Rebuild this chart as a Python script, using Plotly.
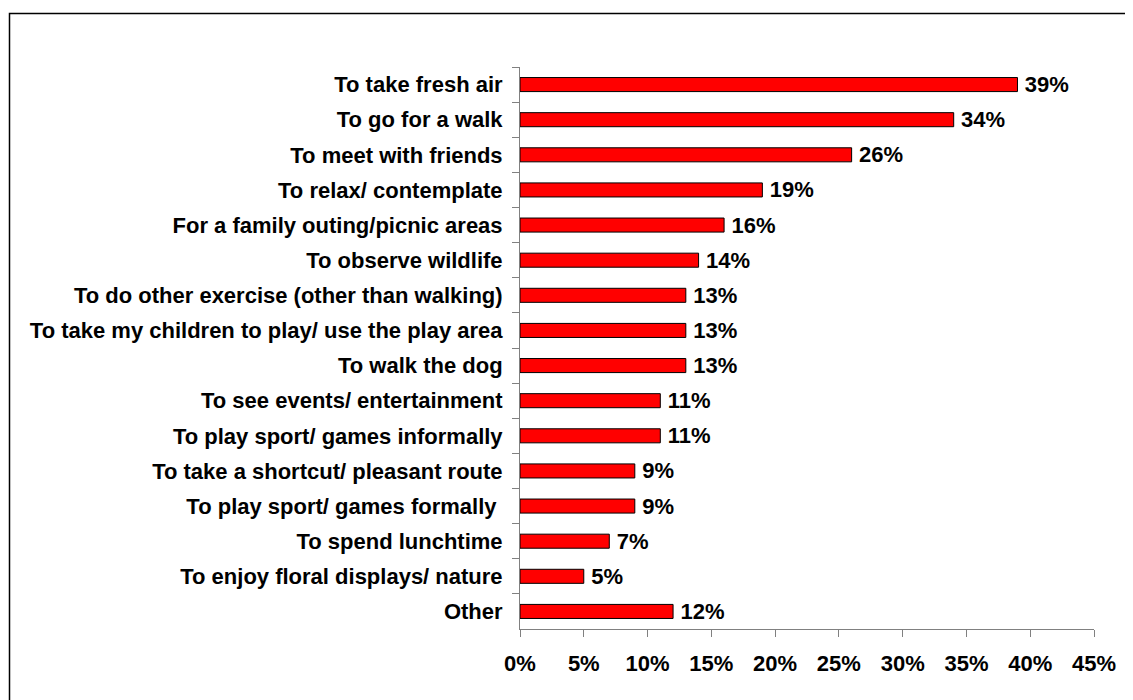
import plotly.graph_objects as go

categories = [
    "To take fresh air",
    "To go for a walk",
    "To meet with friends",
    "To relax/ contemplate",
    "For a family outing/picnic areas",
    "To observe wildlife",
    "To do other exercise (other than walking)",
    "To take my children to play/ use the play area",
    "To walk the dog",
    "To see events/ entertainment",
    "To play sport/ games informally",
    "To take a shortcut/ pleasant route",
    "To play sport/ games formally ",
    "To spend lunchtime",
    "To enjoy floral displays/ nature",
    "Other",
]
values = [39, 34, 26, 19, 16, 14, 13, 13, 13, 11, 11, 9, 9, 7, 5, 12]
tick_vals = [0, 5, 10, 15, 20, 25, 30, 35, 40, 45]
tick_text = [f"{v}%" for v in tick_vals]

FONT = "Arial, Liberation Sans, sans-serif"
FS = 22

# page has an 8px body margin; figure coordinates are offset accordingly
OFF = 8
L, R, T, B = 520 - OFF, 1133 - (1094 - OFF), 67 - OFF, 700 - (629 - OFF)
PW, PH = 1133 - L - R, 700 - T - B

fig = go.Figure(
    go.Bar(
        x=values,
        y=categories,
        orientation="h",
        width=0.4,
        marker=dict(color="#FF0000", line=dict(color="#000000", width=1)),
        text=[f"\u2009{v}%" for v in values],
        textposition="outside",
        constraintext="none",
        textfont=dict(family=FONT, size=FS, color="#000000", weight="bold"),
        cliponaxis=False,
    )
)

fig.update_layout(
    width=1133,
    height=700,
    margin=dict(l=L, r=R, t=T, b=B),
    paper_bgcolor="white",
    plot_bgcolor="white",
    showlegend=False,
    font=dict(family=FONT, size=FS, color="#000000"),
    xaxis=dict(
        range=[0, 45],
        tickvals=tick_vals,
        ticktext=tick_text,
        showgrid=False,
        zeroline=False,
        showline=True,
        linecolor="#808080",
        linewidth=1,
        ticks="outside",
        ticklen=7,
        tickcolor="#808080",
        tickfont=dict(family=FONT, size=FS, color="#000000", weight="bold"),
        ticklabelstandoff=8,
    ),
    yaxis=dict(
        autorange="reversed",
        showgrid=False,
        showline=True,
        linecolor="#808080",
        linewidth=1,
        ticks="outside",
        ticklen=7,
        tickcolor="#808080",
        tickson="boundaries",
        tickfont=dict(family=FONT, size=FS, color="#000000", weight="bold"),
        ticklabelstandoff=12,
    ),
    bargap=0.6,
)

fig.add_shape(
    type="rect",
    xref="paper",
    yref="paper",
    x0=(1.5 - L) / PW,
    x1=2,
    y0=-2,
    y1=(700 - B - 5.5) / PH,
    line=dict(color="#000000", width=1.5),
    fillcolor="rgba(0,0,0,0)",
    layer="below",
)

fig.write_html("out.html")
